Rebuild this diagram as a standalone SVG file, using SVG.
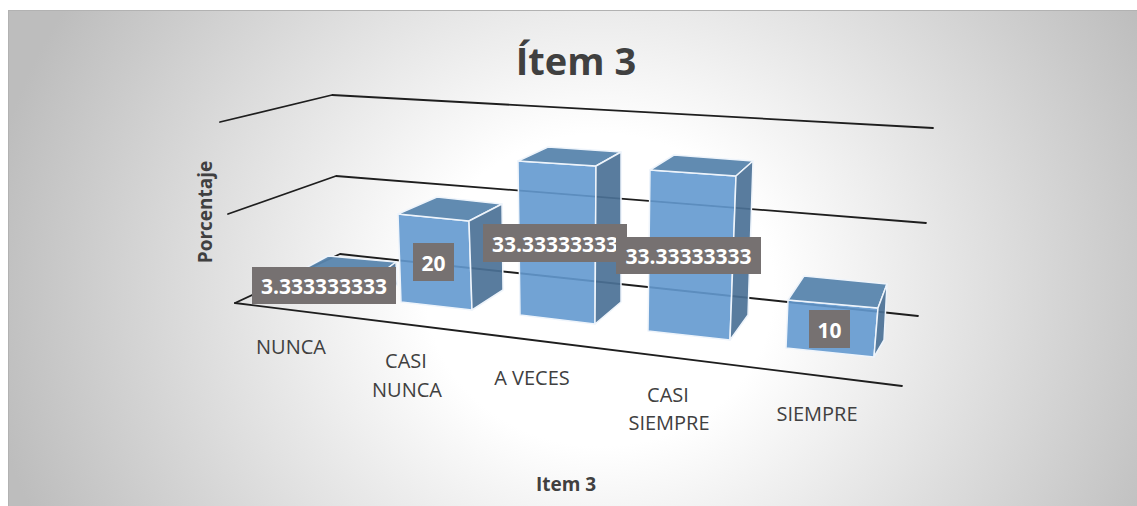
<svg xmlns="http://www.w3.org/2000/svg" width="1137" height="506" viewBox="0 0 1137 506">
  <defs>
    <radialGradient id="bg" gradientUnits="userSpaceOnUse" cx="600" cy="290" r="620" gradientTransform="translate(600 290) scale(1 0.9) translate(-600 -290)">
      <stop offset="0" stop-color="#ffffff"/>
      <stop offset="0.28" stop-color="#ffffff"/>
      <stop offset="1" stop-color="#bdbdbd"/>
    </radialGradient>
    <style>
      .grid { fill: none; stroke: #1e1e1e; stroke-width: 1.8; stroke-linecap: round; stroke-linejoin: round; }
      .front { fill: #6399cf; fill-opacity: 0.9; stroke: #eef4fb; stroke-width: 1.5; stroke-linejoin: round; }
      .top { fill: #5885ad; fill-opacity: 0.95; stroke: #eef4fb; stroke-width: 1.5; stroke-linejoin: round; }
      .side { fill: #4b7196; fill-opacity: 0.92; stroke: #eef4fb; stroke-width: 1.5; stroke-linejoin: round; }
      .lblbox { fill: #767171; }
      .lbl { font-family: "Open Sans", "Liberation Sans", sans-serif; font-weight: 700; font-size: 21px; fill: #ffffff; text-anchor: middle; }
      .cat { font-family: "Open Sans", "Liberation Sans", sans-serif; font-size: 20px; fill: #404040; text-anchor: middle; }
      .axt { font-family: "Open Sans", "Liberation Sans", sans-serif; font-weight: 700; font-size: 19px; fill: #404040; text-anchor: middle; }
      .title { font-family: "Open Sans", "Liberation Sans", sans-serif; font-weight: 700; font-size: 38px; fill: #404040; text-anchor: middle; }
    </style>
  </defs>

  <!-- chart area -->
  <rect x="0" y="0" width="1137" height="506" fill="#ffffff"/>
  <rect x="8.5" y="10.5" width="1140" height="500" fill="url(#bg)" stroke="#b2b2b2" stroke-width="1"/>

  <!-- wall and floor gridlines -->
  <g id="connectors">
    <polyline class="grid" points="220,122 332,95 933,128"/>
    <polyline class="grid" points="228,214 336,176 926,223"/>
    <polyline class="grid" points="235,303 340,254 918,316"/>
  </g>

  <!-- bars -->
  <g id="bar-nunca">
    <polygon class="front" points="300,271 376,277 378,297 302,291"/>
    <polygon class="top" points="300,271 328,256 396,262 376,277"/>
    <polygon class="side" points="376,277 396,262 397,285 378,297"/>
  </g>
  <g id="bar-casi-nunca">
    <polygon class="front" points="398,214 469,221 472,310 401,302"/>
    <polygon class="top" points="398,214 437,197 502,204 469,221"/>
    <polygon class="side" points="469,221 502,204 503,290 472,310"/>
  </g>
  <g id="bar-a-veces">
    <polygon class="front" points="518,161 596,166 595,324 520,315"/>
    <polygon class="top" points="518,161 548,147 621,152 596,166"/>
    <polygon class="side" points="596,166 621,152 621,302 595,324"/>
  </g>
  <g id="bar-casi-siempre">
    <polygon class="front" points="650,170 736,176 730,340 648,331"/>
    <polygon class="top" points="650,170 674,155 753,161 736,176"/>
    <polygon class="side" points="736,176 753,161 748,315 730,340"/>
  </g>
  <g id="bar-siempre">
    <polygon class="front" points="788,300 878,308 874,357 786,348"/>
    <polygon class="top" points="788,300 804,276 887,284 878,308"/>
    <polygon class="side" points="878,308 887,284 884,340 874,357"/>
  </g>

  <!-- floor front edge -->
  <g id="floor-edge">
    <line class="grid" x1="235" y1="303" x2="902" y2="386"/>
  </g>

  <!-- data labels -->
  <g id="label-nunca">
    <rect class="lblbox" x="252" y="267" width="144" height="37"/>
    <text class="lbl" x="324" y="294">3.333333333</text>
  </g>
  <g id="label-casi-nunca">
    <rect class="lblbox" x="413" y="243" width="41" height="38"/>
    <text class="lbl" x="433.5" y="271">20</text>
  </g>
  <g id="label-a-veces">
    <rect class="lblbox" x="483" y="224" width="144" height="38"/>
    <text class="lbl" x="555" y="252">33.33333333</text>
  </g>
  <g id="label-casi-siempre">
    <rect class="lblbox" x="616" y="237" width="145" height="37"/>
    <text class="lbl" x="688.5" y="264">33.33333333</text>
  </g>
  <g id="label-siempre">
    <rect class="lblbox" x="809" y="310" width="41" height="38"/>
    <text class="lbl" x="829.5" y="338">10</text>
  </g>

  <!-- category axis -->
  <g id="categories">
    <text class="cat" x="291" y="354">NUNCA</text>
    <text class="cat" x="406" y="368">CASI</text>
    <text class="cat" x="407" y="397">NUNCA</text>
    <text class="cat" x="532" y="385">A VECES</text>
    <text class="cat" x="668" y="402">CASI</text>
    <text class="cat" x="669" y="430">SIEMPRE</text>
    <text class="cat" x="817" y="421">SIEMPRE</text>
  </g>

  <!-- titles -->
  <g id="chart-title">
    <text class="title" x="576" y="75">Ítem 3</text>
  </g>
  <g id="axis-title-x">
    <text class="axt" x="566" y="491">Item 3</text>
  </g>
  <g id="axis-title-y">
    <text class="axt" transform="translate(212 212) rotate(-90)" x="0" y="0">Porcentaje</text>
  </g>
</svg>
